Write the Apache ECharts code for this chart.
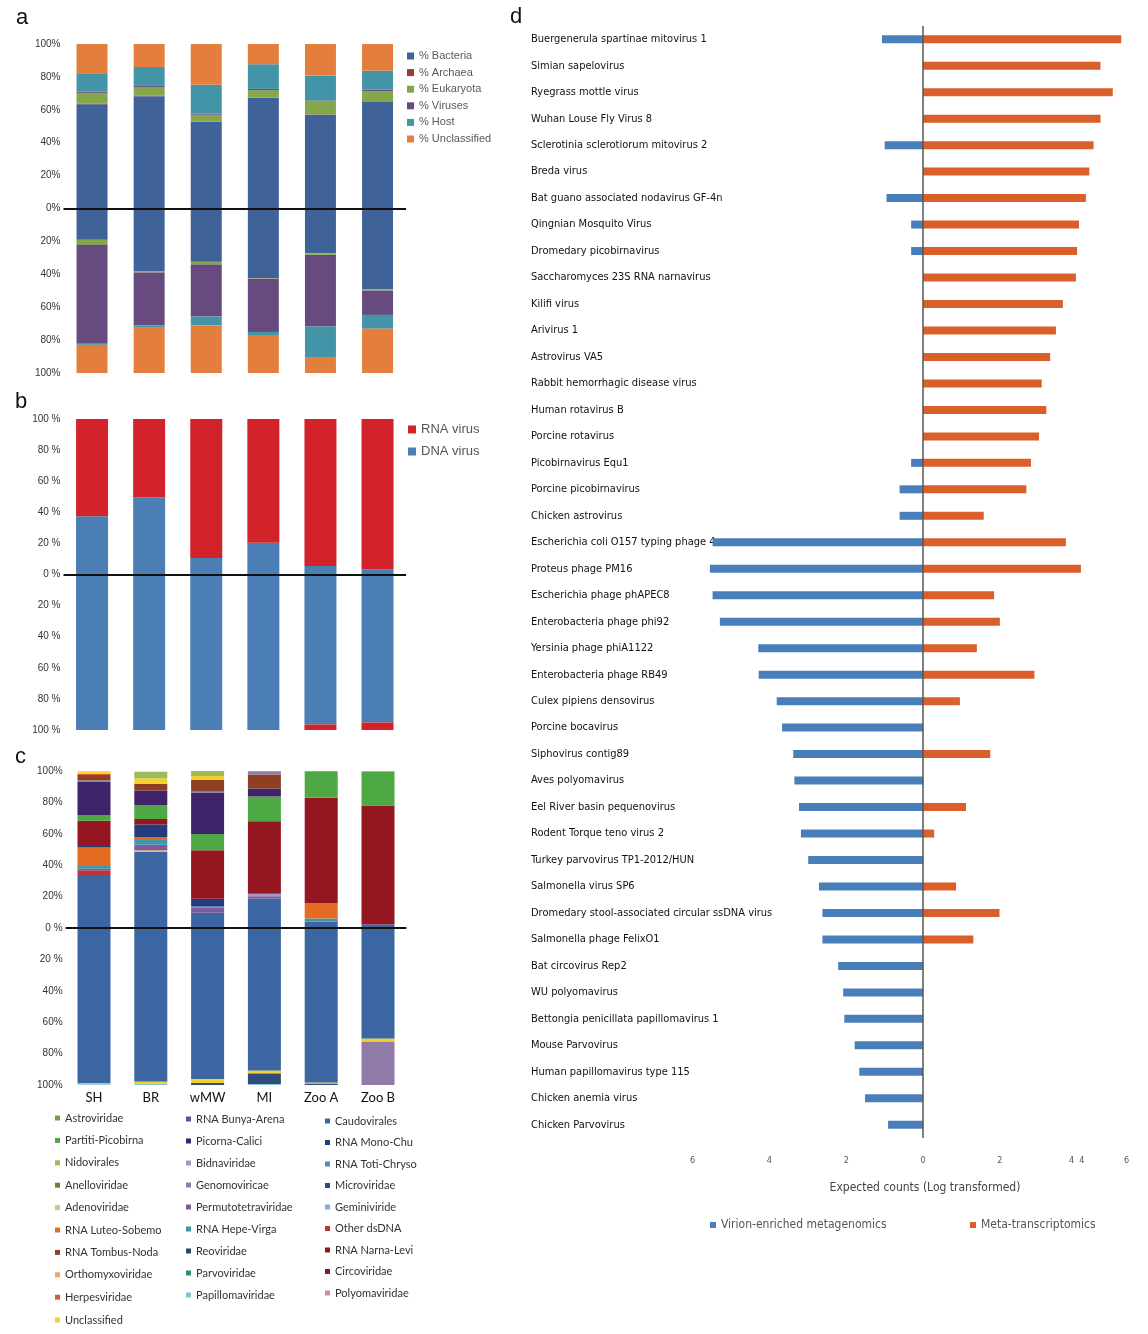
<!DOCTYPE html>
<html><head><meta charset="utf-8">
<script src="https://cdn.jsdelivr.net/npm/echarts@6/dist/echarts.min.js"></script>
<style>html,body{margin:0;padding:0;background:#fff}#c{width:1148px;height:1334px}</style>
</head><body><div id="c"></div>
<script>
// ---------- shared ----------
const samples = ['SH', 'BR', 'wMW', 'MI', 'Zoo A', 'Zoo B'];

// ---------- panel a (top: upper half, bottom: lower half) ----------
const aNames = ['% Bacteria', '% Archaea', '% Eukaryota', '% Viruses', '% Host', '% Unclassified'];
const aTopBacteria = [63.4, 68.3, 52.7, 67.3, 57.0, 65.1];
const aTopArchaea = [0.3, 0.2, 0.1, 0.1, 0.2, 0.2];
const aTopEukaryota = [6.6, 5.4, 4.2, 4.5, 7.9, 6.0];
const aTopViruses = [0.8, 1.0, 0.6, 0.8, 0.6, 1.0];
const aTopHost = [11.1, 11.1, 17.6, 15.0, 15.1, 11.5];
const aTopUnclassified = [17.8, 14.0, 24.8, 12.3, 19.2, 16.2];
const aBotBacteria = [19.0, 38.0, 32.4, 42.3, 27.1, 49.0];
const aBotArchaea = [0.1, 0.1, 0.1, 0.1, 0.1, 0.1];
const aBotEukaryota = [3.0, 0.8, 1.6, 0.3, 1.0, 0.8];
const aBotViruses = [59.6, 32.1, 31.6, 32.3, 43.5, 14.8];
const aBotHost = [1.2, 1.5, 5.4, 2.4, 18.6, 8.4];
const aBotUnclassified = [17.1, 27.5, 28.9, 22.6, 9.7, 26.9];

// ---------- panel b ----------
const bNames = ['RNA virus', 'DNA virus'];
const bTopDNA = [37.4, 49.5, 10.6, 20.4, 5.5, 3.4];
const bTopRNA = [62.6, 50.5, 89.4, 79.6, 94.5, 96.6];
const bBotDNA = [100, 100, 100, 100, 96.5, 95.2];
const bBotRNA = [0, 0, 0, 0, 3.5, 4.8];

// ---------- panel c (upper half, stacked from 0 upward) ----------
const cTopCaudovirales = [33.8, 48.5, 9.7, 18.8, 4.2, 2.3];
const cTopOtherdsDNA = [3.0, 0, 0, 0, 0, 0];
const cTopOrthomyxoviridae = [0, 1.0, 0, 0, 0, 0];
const cTopPermutotetraviridae = [1.0, 3.6, 3.2, 1.5, 0, 0];
const cTopBidnaviridae = [0, 0, 0, 1.5, 0, 0];
const cTopHepeVirga = [1.7, 3.0, 0.8, 0, 1.9, 0];
const cTopLuteoSobemo = [11.8, 1.9, 0, 0, 9.7, 0];
const cTopMonoChu = [1.0, 8.0, 4.9, 0, 0, 0];
const cTopNarnaLevi = [16.0, 3.4, 31.0, 46.2, 67.1, 75.7];
const cTopPartitiPicobirna = [3.6, 8.9, 10.3, 15.8, 16.9, 21.7];
const cTopPicornaCalici = [21.3, 9.3, 26.4, 5.1, 0, 0];
const cTopTotiChryso = [0.8, 0, 1.0, 0, 0, 0];
const cTopTombusNoda = [3.4, 4.2, 7.0, 8.9, 0, 0];
const cTopHerpesviridae = [0.8, 0, 0, 0, 0, 0];
const cTopUnclassified = [1.7, 3.6, 2.5, 0, 0, 0];
const cTopNidovirales = [0, 4.2, 3.2, 0, 0, 0.3];
const cTopGenomoviricae = [0, 0, 0, 2.1, 0, 0];
// panel c (lower half, stacked from 0 downward)
const cBotCaudovirales = [99.0, 98.0, 96.3, 91.0, 98.5, 70.6];
const cBotUnclassified = [0.5, 1.2, 2.4, 1.7, 0.7, 1.9];
const cBotMicroviridae = [0, 0, 1.3, 6.8, 0.8, 0];
const cBotGenomoviricae = [0, 0, 0, 0, 0, 27.5];
const cBotPapillomaviridae = [0.5, 0.8, 0, 0.5, 0, 0];
// legend columns
const cLegendCol1 = ['Astroviridae', 'Partiti-Picobirna', 'Nidovirales', 'Anelloviridae', 'Adenoviridae', 'RNA Luteo-Sobemo', 'RNA Tombus-Noda', 'Orthomyxoviridae', 'Herpesviridae', 'Unclassified'];
const cLegendCol2 = ['RNA Bunya-Arena', 'Picorna-Calici', 'Bidnaviridae', 'Genomoviricae', 'Permutotetraviridae', 'RNA Hepe-Virga', 'Reoviridae', 'Parvoviridae', 'Papillomaviridae'];
const cLegendCol3 = ['Caudovirales', 'RNA Mono-Chu', 'RNA Toti-Chryso', 'Microviridae', 'Geminiviride', 'Other dsDNA', 'RNA Narna-Levi', 'Circoviridae', 'Polyomaviridae'];

// ---------- panel d ----------
const dNames = ['Buergenerula spartinae mitovirus 1', 'Simian sapelovirus', 'Ryegrass mottle virus', 'Wuhan Louse Fly Virus 8', 'Sclerotinia sclerotiorum mitovirus 2', 'Breda virus', 'Bat guano associated nodavirus GF-4n', 'Qingnian Mosquito Virus', 'Dromedary picobirnavirus', 'Saccharomyces 23S RNA narnavirus', 'Kilifi virus', 'Arivirus 1', 'Astrovirus VA5', 'Rabbit hemorrhagic disease virus', 'Human rotavirus B', 'Porcine rotavirus', 'Picobirnavirus Equ1', 'Porcine picobirnavirus', 'Chicken astrovirus', 'Escherichia coli O157 typing phage 4', 'Proteus phage PM16', 'Escherichia phage phAPEC8', 'Enterobacteria phage phi92', 'Yersinia phage phiA1122', 'Enterobacteria phage RB49', 'Culex pipiens densovirus', 'Porcine bocavirus', 'Siphovirus contig89', 'Aves polyomavirus', 'Eel River basin pequenovirus', 'Rodent Torque teno virus 2', 'Turkey parvovirus TP1-2012/HUN', 'Salmonella virus SP6', 'Dromedary stool-associated circular ssDNA virus', 'Salmonella phage FelixO1', 'Bat circovirus Rep2', 'WU polyomavirus', 'Bettongia penicillata papillomavirus 1', 'Mouse Parvovirus', 'Human papillomavirus type 115', 'Chicken anemia virus', 'Chicken Parvovirus'];
const dVirion = [1.07, 0, 0, 0, 1.0, 0, 0.95, 0.31, 0.31, 0, 0, 0, 0, 0, 0, 0, 0.31, 0.61, 0.61, 5.48, 5.55, 5.48, 5.29, 4.29, 4.28, 3.81, 3.67, 3.38, 3.35, 3.23, 3.18, 2.99, 2.71, 2.62, 2.62, 2.21, 2.08, 2.05, 1.78, 1.66, 1.51, 0.91];
const dMeta = [5.16, 4.62, 4.94, 4.62, 4.44, 4.33, 4.24, 4.06, 4.01, 3.98, 3.64, 3.46, 3.31, 3.09, 3.21, 3.02, 2.81, 2.69, 1.58, 3.72, 4.11, 1.85, 2.0, 1.40, 2.90, 0.96, 0, 1.75, 0, 1.12, 0.29, 0, 0.86, 1.99, 1.31, 0, 0, 0, 0, 0, 0, 0];
const dTickMax = 5.3;

// ---------- styles ----------
const aColors = {'% Bacteria': '#3F6399', '% Archaea': '#9C3A37', '% Eukaryota': '#84A74A', '% Viruses': '#664A80', '% Host': '#4494A8', '% Unclassified': '#E47E3D'};
const bColors = {'RNA virus': '#D2232A', 'DNA virus': '#4A7EB4'};
const cColors = {
  'Astroviridae': '#6FA043', 'Partiti-Picobirna': '#4EA843', 'Nidovirales': '#9BBB59', 'Anelloviridae': '#5E8A35', 'Adenoviridae': '#B5D38A',
  'RNA Luteo-Sobemo': '#E46B22', 'RNA Tombus-Noda': '#8F4024', 'Orthomyxoviridae': '#F4A466', 'Herpesviridae': '#E0572B', 'Unclassified': '#F2D12E',
  'RNA Bunya-Arena': '#6E4A8E', 'Picorna-Calici': '#3E2369', 'Bidnaviridae': '#A698C4', 'Genomoviricae': '#8F7AA8', 'Permutotetraviridae': '#7B5A9E',
  'RNA Hepe-Virga': '#3F96AE', 'Reoviridae': '#1F4E5A', 'Parvoviridae': '#2E8B7A', 'Papillomaviridae': '#85C4CF',
  'Caudovirales': '#3B66A2', 'RNA Mono-Chu': '#223C7D', 'RNA Toti-Chryso': '#5B86BE', 'Microviridae': '#2F4C7A', 'Geminiviride': '#8EA9CF',
  'Other dsDNA': '#B8363B', 'RNA Narna-Levi': '#931621', 'Circoviridae': '#7A1F24', 'Polyomaviridae': '#D88A8A'
};

// ---------- build ----------
const tickFont = "'Liberation Sans', Arial, sans-serif";
const narrowFont = "'DejaVu Sans Condensed', 'Liberation Sans', sans-serif";
const legendFontC = "Lato, 'Liberation Sans', sans-serif";
const series = [];
function zeroLine(){
  return {silent: true, symbol: ['none', 'none'], label: {show: false},
    lineStyle: {color: '#111', width: 2, type: 'solid'}, data: [{yAxis: 0}], animation: false};
}
function addStack(idx, stack, name, data, sign, color, width){
  series.push({type: 'bar', name, stack, xAxisIndex: idx, yAxisIndex: idx, barWidth: width,
    itemStyle: {color}, data: data.map(v => sign * v), animation: false});
}
// panel a
const aTop = [aTopBacteria, aTopArchaea, aTopEukaryota, aTopViruses, aTopHost, aTopUnclassified];
const aBot = [aBotBacteria, aBotArchaea, aBotEukaryota, aBotViruses, aBotHost, aBotUnclassified];
aNames.forEach((n, i) => addStack(0, 'a', n, aTop[i], 1, aColors[n], 31));
aNames.forEach((n, i) => addStack(0, 'a', n, aBot[i], -1, aColors[n], 31));
series[0].markLine = zeroLine();
// panel b
const bFirst = series.length;
addStack(1, 'b', 'DNA virus', bTopDNA, 1, bColors['DNA virus'], 32);
addStack(1, 'b', 'RNA virus', bTopRNA, 1, bColors['RNA virus'], 32);
addStack(1, 'b', 'DNA virus', bBotDNA, -1, bColors['DNA virus'], 32);
addStack(1, 'b', 'RNA virus', bBotRNA, -1, bColors['RNA virus'], 32);
series[bFirst].markLine = zeroLine();
// panel c
const cTopList = [
  ['Caudovirales', cTopCaudovirales], ['Other dsDNA', cTopOtherdsDNA], ['Orthomyxoviridae', cTopOrthomyxoviridae],
  ['Permutotetraviridae', cTopPermutotetraviridae], ['Bidnaviridae', cTopBidnaviridae], ['RNA Hepe-Virga', cTopHepeVirga],
  ['RNA Luteo-Sobemo', cTopLuteoSobemo], ['RNA Mono-Chu', cTopMonoChu], ['RNA Narna-Levi', cTopNarnaLevi],
  ['Partiti-Picobirna', cTopPartitiPicobirna], ['Picorna-Calici', cTopPicornaCalici], ['RNA Toti-Chryso', cTopTotiChryso],
  ['RNA Tombus-Noda', cTopTombusNoda], ['Herpesviridae', cTopHerpesviridae], ['Unclassified', cTopUnclassified],
  ['Nidovirales', cTopNidovirales], ['Genomoviricae', cTopGenomoviricae]
];
const cBotList = [
  ['Caudovirales', cBotCaudovirales], ['Unclassified', cBotUnclassified], ['Microviridae', cBotMicroviridae],
  ['Genomoviricae', cBotGenomoviricae], ['Papillomaviridae', cBotPapillomaviridae]
];
const cFirst = series.length;
cTopList.forEach(([n, d]) => addStack(2, 'c', n, d, 1, cColors[n], 33));
cBotList.forEach(([n, d]) => addStack(2, 'c', n, d, -1, cColors[n], 33));
const used = new Set(cTopList.concat(cBotList).map(x => x[0]));
cLegendCol1.concat(cLegendCol2, cLegendCol3).forEach(n => {
  if (!used.has(n)) addStack(2, 'c', n, samples.map(() => 0), 1, cColors[n], 33);
});
series[cFirst].markLine = zeroLine();
// panel d
series.push({type: 'bar', name: 'Virion-enriched metagenomics', stack: 'd', xAxisIndex: 3, yAxisIndex: 3, barWidth: 8,
  itemStyle: {color: '#4A7EBB'}, data: dVirion.map(v => -v), animation: false,
  markLine: {silent: true, symbol: ['none', 'none'], label: {show: false}, lineStyle: {color: '#555', width: 1.5, type: 'solid'}, data: [{xAxis: 0}]}});
series.push({type: 'bar', name: 'Meta-transcriptomics', stack: 'd', xAxisIndex: 3, yAxisIndex: 3, barWidth: 8,
  itemStyle: {color: '#DB5F2A'}, data: dMeta, animation: false});

function pctAxis(idx, fmt){
  return {type: 'value', gridIndex: idx, min: -100, max: 100, interval: 20,
    axisLine: {show: false}, axisTick: {show: false}, splitLine: {show: false},
    axisLabel: {margin: 3, fontSize: 10, color: '#333', fontFamily: tickFont, formatter: fmt}};
}
function catAxis(idx, showLabels){
  return {type: 'category', gridIndex: idx, data: samples, axisLine: {show: false, onZero: false}, axisTick: {show: false},
    axisLabel: {show: showLabels, margin: 6, fontSize: 13, color: '#111', fontFamily: legendFontC}};
}
const legendBase = {icon: 'rect', orient: 'vertical', selectedMode: false};
const cLegText = {fontSize: 11, color: '#333', lineHeight: 14, fontFamily: legendFontC};

const option = {
  backgroundColor: '#fff',
  animation: false,
  grid: [
    {left: 63.5, width: 342.6, top: 44, height: 329},
    {left: 63.5, width: 342.6, top: 419, height: 311},
    {left: 65.6, width: 340.8, top: 771, height: 314},
    {left: 692.6, width: 434, top: 26, height: 1112}
  ],
  xAxis: [
    catAxis(0, false), catAxis(1, false), catAxis(2, true),
    {type: 'value', gridIndex: 3, min: -6, max: dTickMax, interval: 2,
      axisLine: {show: false, onZero: false}, axisTick: {show: false}, splitLine: {show: false},
      axisLabel: {showMaxLabel: true, showMinLabel: true, margin: 18, fontSize: 9, color: '#555', fontFamily: narrowFont,
        formatter: v => v === dTickMax ? '6' : (v === 4 ? '4  4' : String(Math.abs(v)))}}
  ],
  yAxis: [
    pctAxis(0, v => Math.abs(v) + '%'),
    pctAxis(1, v => Math.abs(v) + ' %'),
    pctAxis(2, v => (v === 0 || v === -20) ? Math.abs(v) + ' %' : Math.abs(v) + '%'),
    {type: 'category', gridIndex: 3, data: dNames, inverse: true,
      axisLine: {show: false, onZero: false}, axisTick: {show: false}, splitLine: {show: false},
      axisLabel: {align: 'left', margin: 161.6, fontSize: 11, color: '#111', fontFamily: narrowFont}}
  ],
  legend: [
    Object.assign({}, legendBase, {data: aNames, left: 402, top: 45, itemWidth: 7, itemHeight: 7, itemGap: 4.6,
      textStyle: {fontSize: 11, color: '#595959', lineHeight: 12, fontFamily: tickFont}}),
    Object.assign({}, legendBase, {data: bNames, left: 403, top: 417, itemWidth: 8, itemHeight: 8, itemGap: 7,
      textStyle: {fontSize: 13, color: '#555', lineHeight: 15, fontFamily: tickFont}}),
    Object.assign({}, legendBase, {data: cLegendCol1.slice(0, 9), left: 50, top: 1106, itemWidth: 5, itemHeight: 5, itemGap: 8.4, textStyle: cLegText}),
    Object.assign({}, legendBase, {data: cLegendCol1.slice(9), left: 50, top: 1308, itemWidth: 5, itemHeight: 5, textStyle: cLegText}),
    Object.assign({}, legendBase, {data: cLegendCol2, left: 181, top: 1107, itemWidth: 5, itemHeight: 5, itemGap: 8, textStyle: cLegText}),
    Object.assign({}, legendBase, {data: cLegendCol3, left: 320, top: 1109, itemWidth: 5, itemHeight: 5, itemGap: 7.5, textStyle: cLegText}),
    Object.assign({}, legendBase, {data: ['Virion-enriched metagenomics'], orient: 'horizontal', left: 705, top: 1214, itemWidth: 6, itemHeight: 6,
      textStyle: {fontSize: 12, color: '#555', fontFamily: narrowFont}}),
    Object.assign({}, legendBase, {data: ['Meta-transcriptomics'], orient: 'horizontal', left: 965, top: 1214, itemWidth: 6, itemHeight: 6,
      textStyle: {fontSize: 12, color: '#555', fontFamily: narrowFont}})
  ],
  graphic: [
    {type: 'text', left: 16, top: 7, style: {text: 'a', fontSize: 22, fill: '#111', fontFamily: tickFont}},
    {type: 'text', left: 15, top: 391, style: {text: 'b', fontSize: 22, fill: '#111', fontFamily: tickFont}},
    {type: 'text', left: 15, top: 746, style: {text: 'c', fontSize: 22, fill: '#111', fontFamily: tickFont}},
    {type: 'text', left: 510, top: 6, style: {text: 'd', fontSize: 22, fill: '#111', fontFamily: tickFont}},
    {type: 'text', x: 925, y: 1188, style: {text: 'Expected counts (Log transformed)', fontSize: 12, fill: '#444',
      fontFamily: narrowFont, align: 'center', verticalAlign: 'middle'}}
  ],
  series
};
const chart = echarts.init(document.getElementById('c'));
chart.setOption(option);
</script></body></html>
